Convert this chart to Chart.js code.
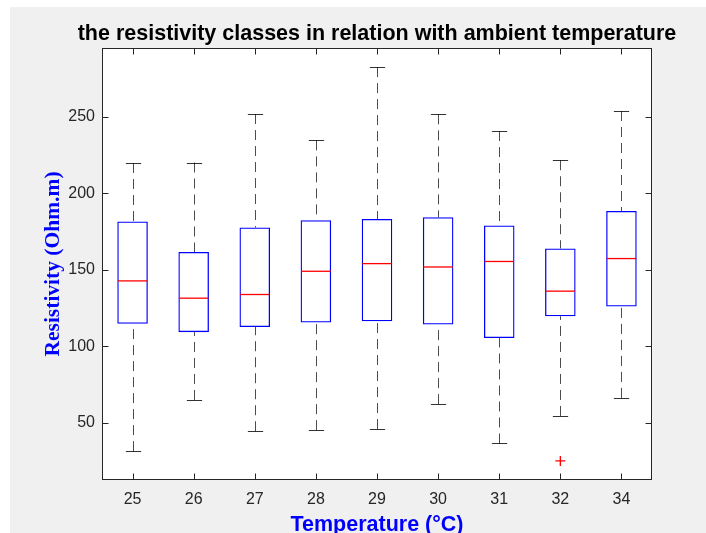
<!DOCTYPE html>
<html>
<head>
<meta charset="utf-8">
<script src="https://cdn.jsdelivr.net/npm/chart.js@4/dist/chart.umd.min.js"></script>
<style>
  html, body { margin: 0; padding: 0; background: #fff; }
  #wrap { width: 706px; height: 533px; }
</style>
</head>
<body>
<div id="wrap"><canvas id="boxChart" width="706" height="533"></canvas></div>
<script>
// values
const categories = ['25', '26', '27', '28', '29', '30', '31', '32', '34'];
const lowerWhisker = [31.4, 64.8, 44.4, 45.1, 45.8, 62.1, 36.4, 54.4, 66.2];
const q1 = [114.6, 109.2, 112.6, 115.5, 116.3, 114.2, 105.4, 119.6, 126.0];
const median = [142.7, 131.4, 133.8, 149.0, 154.0, 151.8, 155.4, 136.0, 157.3];
const q3 = [181.5, 161.6, 177.6, 182.4, 183.2, 184.3, 178.9, 163.9, 188.4];
const upperWhisker = [219.8, 220.1, 251.8, 234.6, 282.5, 251.6, 240.7, 221.6, 253.8];
const outliers = [null, null, null, null, null, null, null, 25.0, null];
const yTicks = [50, 100, 150, 200, 250];

const titleText = 'the resistivity classes in relation with ambient temperature';
const xTitle = 'Temperature (°C)';
const yTitle = 'Resistivity (Ohm.m)';

var axisColor = '#262626';

var backgroundPlugin = {
    id: 'background',
    beforeDraw: function(chart) {
        var ctx = chart.ctx, a = chart.chartArea;
        ctx.save();
        ctx.fillStyle = '#ffffff';
        ctx.fillRect(0, 0, chart.width, chart.height);
        ctx.fillStyle = '#f0f0f0';
        ctx.fillRect(10, 7, chart.width - 10, chart.height - 7);
        ctx.fillStyle = '#ffffff';
        ctx.fillRect(a.left, a.top, a.right - a.left, a.bottom - a.top);
        ctx.restore();
    }
};

var boxPlugin = {
    id: 'boxExtras',
    beforeDatasetsDraw: function(chart) {
        // whiskers go under the boxes
        var ctx = chart.ctx;
        var xs = chart.scales.x, ys = chart.scales.y;
        var meta = chart.getDatasetMeta(0);
        ctx.save();
        ctx.lineWidth = 1;
        for (var i = 0; i < categories.length; i++) {
            var x = Math.round(xs.getPixelForValue(i)) + 0.5;
            var half = meta.data[i].width / 4;
            var yUp = ys.getPixelForValue(upperWhisker[i]);
            var yLo = ys.getPixelForValue(lowerWhisker[i]);
            var yQ1 = ys.getPixelForValue(q1[i]);
            var yQ3 = ys.getPixelForValue(q3[i]);

            ctx.strokeStyle = 'rgba(0,0,0,0.7)';
            ctx.setLineDash([10, 6]);
            ctx.beginPath();
            ctx.moveTo(x, yUp);
            ctx.lineTo(x, yQ3);
            ctx.moveTo(x, yLo);
            ctx.lineTo(x, yQ1);
            ctx.stroke();

            ctx.setLineDash([]);
            ctx.strokeStyle = 'rgba(0,0,0,0.8)';
            ctx.beginPath();
            ctx.moveTo(x - half, Math.round(yUp) + 0.5);
            ctx.lineTo(x + half, Math.round(yUp) + 0.5);
            ctx.moveTo(x - half, Math.round(yLo) + 0.5);
            ctx.lineTo(x + half, Math.round(yLo) + 0.5);
            ctx.stroke();
        }
        ctx.restore();
    },
    afterDatasetsDraw: function(chart) {
        var ctx = chart.ctx;
        var ys = chart.scales.y;
        var meta = chart.getDatasetMeta(0);
        ctx.save();
        ctx.strokeStyle = '#ff0000';
        ctx.lineWidth = 1.3;
        for (var i = 0; i < categories.length; i++) {
            var bar = meta.data[i];
            var ym = ys.getPixelForValue(median[i]);
            ctx.beginPath();
            ctx.moveTo(bar.x - bar.width / 2 + 0.5, ym);
            ctx.lineTo(bar.x + bar.width / 2 - 0.5, ym);
            ctx.stroke();
        }
        ctx.restore();
    },
    afterDraw: function(chart) {
        var ctx = chart.ctx, a = chart.chartArea;
        var xs = chart.scales.x, ys = chart.scales.y;
        var L = Math.round(a.left) + 0.5, R = Math.round(a.right) - 0.5;
        var T = Math.round(a.top) + 0.5, B = Math.round(a.bottom) - 0.5;
        ctx.save();
        ctx.strokeStyle = axisColor;
        ctx.lineWidth = 1;
        ctx.strokeRect(L, T, R - L, B - T);

        // inward ticks on all four sides
        var tl = 6;
        ctx.beginPath();
        for (var i = 0; i < categories.length; i++) {
            var x = Math.round(xs.getPixelForValue(i)) + 0.5;
            ctx.moveTo(x, B);
            ctx.lineTo(x, B - tl);
            ctx.moveTo(x, T);
            ctx.lineTo(x, T + tl);
        }
        yTicks.forEach(function(v) {
            var y = Math.round(ys.getPixelForValue(v)) + 0.5;
            ctx.moveTo(L, y);
            ctx.lineTo(L + tl, y);
            ctx.moveTo(R, y);
            ctx.lineTo(R - tl, y);
        });
        ctx.stroke();

        // titles
        var cx = (a.left + a.right) / 2;
        ctx.fillStyle = '#000000';
        ctx.textAlign = 'center';
        ctx.textBaseline = 'alphabetic';
        ctx.font = 'bold 21.5px "Liberation Sans", Arial, sans-serif';
        ctx.fillText(titleText, cx, 40);

        ctx.fillStyle = '#0000ff';
        ctx.fillText(xTitle, cx, 531);

        ctx.translate(59, (a.top + a.bottom) / 2);
        ctx.rotate(-Math.PI / 2);
        ctx.font = 'bold 21.5px "Liberation Serif", "Times New Roman", serif';
        ctx.fillText(yTitle, 0, 0);
        ctx.restore();
    }
};

var ctx = document.getElementById('boxChart').getContext('2d');

var boxChart = new Chart(ctx, {
    type: 'bar',
    data: {
        labels: categories,
        datasets: [{
            label: 'IQR',
            data: q1.map(function(v, i) { return [v, q3[i]]; }),
            backgroundColor: 'rgba(0,0,0,0)',
            borderColor: '#0000ff',
            borderWidth: 1.3,
            borderSkipped: false,
            barPercentage: 0.5,
            categoryPercentage: 1.0
        }, {
            type: 'line',
            label: 'Outliers',
            data: outliers,
            showLine: false,
            pointStyle: 'cross',
            pointRadius: 5,
            pointBorderColor: '#ff0000',
            pointBorderWidth: 1.3,
            pointBackgroundColor: '#ff0000'
        }]
    },
    options: {
        responsive: false,
        animation: false,
        layout: {
            padding: { top: 48, right: 54, left: 0, bottom: 0 }
        },
        plugins: {
            legend: { display: false },
            tooltip: { enabled: false },
            title: { display: false }
        },
        scales: {
            x: {
                type: 'category',
                offset: true,
                grid: { display: false, drawTicks: false },
                border: { display: false },
                ticks: {
                    color: axisColor,
                    padding: 10,
                    font: { family: '"Liberation Sans", Arial, sans-serif', size: 16 }
                },
                afterFit: function(scale) { scale.height = 53; }
            },
            y: {
                type: 'linear',
                min: 12.5,
                max: 295,
                grid: { display: false, drawTicks: false },
                border: { display: false },
                ticks: {
                    color: axisColor,
                    padding: 7,
                    font: { family: '"Liberation Sans", Arial, sans-serif', size: 16 }
                },
                afterBuildTicks: function(scale) {
                    scale.ticks = yTicks.map(function(v) { return { value: v }; });
                },
                afterFit: function(scale) { scale.width = 102; }
            }
        }
    },
    plugins: [backgroundPlugin, boxPlugin]
});
</script>
</body>
</html>
